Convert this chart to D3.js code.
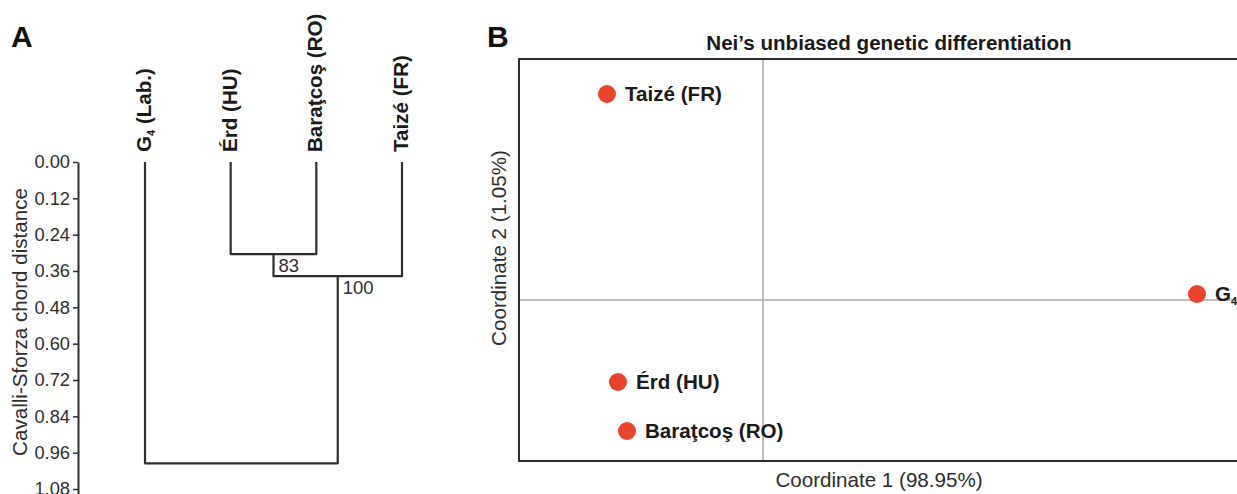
<!DOCTYPE html>
<html>
<head>
<meta charset="utf-8">
<script src="https://cdn.jsdelivr.net/npm/d3@7"></script>
<style>
	body { margin: 0; background: #fff; }
	svg { display: block; font-family: 'Liberation Sans', Arial, sans-serif; }
</style>
</head>
<body>
<div id="visContainer"></div>
<script>
'use strict';

// ---- data: panel A (dendrogram) ----
// leaf labels, split into main text / subscript / rest
var leafMain = ['G', 'Érd (HU)', 'Baraţcoş (RO)', 'Taizé (FR)'];
var leafSub = ['4', '', '', ''];
var leafRest = [' (Lab.)', '', '', ''];
// merges: node index 0..3 are leaves, 4.. are merged clusters
var mergeLeft = [1, 4, 0];
var mergeRight = [2, 3, 5];
var mergeHeight = [0.304, 0.377, 0.995];
var mergeSupport = [83, 100, null];
var distanceTicks = [0, 0.12, 0.24, 0.36, 0.48, 0.60, 0.72, 0.84, 0.96, 1.08];

// ---- data: panel B (PCoA) ----
var pcoaMain = ['Taizé (FR)', 'G', 'Érd (HU)', 'Baraţcoş (RO)'];
var pcoaSub = ['', '4', '', ''];
var coord1 = [-0.156, 0.434, -0.145, -0.136];
var coord2 = [0.206, 0.006, -0.082, -0.131];

var svg = d3.select('#visContainer')
	.append('svg')
	.attr('width', 1237)
	.attr('height', 494);

var DARK = '#2e2e2e';
var LABEL = '20.6px';

// panel letters
svg.append('text').text('A')
	.attr('x', 11).attr('y', 47)
	.style('font-size', '30px').style('font-weight', 'bold').attr('fill', '#111');
svg.append('text').text('B')
	.attr('x', 487).attr('y', 47)
	.style('font-size', '30px').style('font-weight', 'bold').attr('fill', '#111');

// ================= panel A =================
var yScale = d3.scaleLinear()
	.domain([0, 1.1])
	.range([162, 162 + 1.1 * 302.8]);

var xLeaf = d3.scalePoint()
	.domain(d3.range(leafMain.length))
	.range([145, 402]);

var yAxis = d3.axisLeft(yScale)
	.tickValues(distanceTicks)
	.tickFormat(d3.format('.2f'))
	.tickSize(5)
	.tickSizeOuter(0)
	.tickPadding(3);

var yAxisG = svg.append('g')
	.attr('transform', 'translate(78,0)')
	.call(yAxis);
yAxisG.select('.domain').attr('stroke', DARK).attr('stroke-width', 2);
yAxisG.selectAll('.tick line').attr('stroke', DARK).attr('stroke-width', 1.5);
yAxisG.selectAll('.tick text')
	.style('font-size', '18.3px')
	.attr('fill', DARK)
	.style('font-family', "'Liberation Sans', Arial, sans-serif");

svg.append('text')
	.text('Cavalli-Sforza chord distance')
	.attr('transform', 'translate(27,322) rotate(-90)')
	.attr('text-anchor', 'middle')
	.style('font-size', LABEL)
	.attr('fill', DARK);

// node positions
var nodeX = [], nodeY = [];
d3.range(leafMain.length).forEach(function (i) {
	nodeX.push(xLeaf(i));
	nodeY.push(yScale(0));
});
mergeHeight.forEach(function (h, i) {
	nodeX.push((nodeX[mergeLeft[i]] + nodeX[mergeRight[i]]) / 2);
	nodeY.push(yScale(h));
});

// branches: vertical drop from each child to merge height, then the horizontal bar
var tree = svg.append('g')
	.attr('fill', 'none')
	.attr('stroke', DARK)
	.attr('stroke-width', 2.2)
	.attr('stroke-linejoin', 'round');

mergeHeight.forEach(function (h, i) {
	var a = mergeLeft[i], b = mergeRight[i];
	var yy = yScale(h);
	var path = d3.path();
	path.moveTo(nodeX[a], nodeY[a]);
	path.lineTo(nodeX[a], yy);
	path.lineTo(nodeX[b], yy);
	path.lineTo(nodeX[b], nodeY[b]);
	tree.append('path').attr('d', path.toString());
});

// bootstrap support values
mergeSupport.forEach(function (s, i) {
	if (s == null) return;
	var n = leafMain.length + i;
	svg.append('text')
		.text(s)
		.attr('x', nodeX[n] + 5)
		.attr('y', nodeY[n] + 18)
		.style('font-size', '18.5px')
		.attr('fill', DARK);
});

// leaf labels
leafMain.forEach(function (name, i) {
	var t = svg.append('text')
		.attr('transform', 'translate(' + (xLeaf(i) + 6) + ',152) rotate(-90)')
		.style('font-size', LABEL)
		.style('font-weight', 'bold')
		.attr('fill', '#1a1a1a');
	t.append('tspan').text(name);
	if (leafSub[i]) {
		t.append('tspan').text(leafSub[i])
			.attr('dy', 4).style('font-size', '11px');
		t.append('tspan').text(leafRest[i])
			.attr('dy', -4);
	}
});

// ================= panel B =================
var BOX = { left: 519, top: 59, right: 1259, bottom: 461 };

var xPC = d3.scaleLinear()
	.domain([-0.244, 0.496])
	.range([BOX.left, BOX.right]);
var yPC = d3.scaleLinear()
	.domain([-0.161, 0.241])
	.range([BOX.bottom, BOX.top]);

// zero lines
svg.append('line')
	.attr('x1', xPC(0)).attr('x2', xPC(0))
	.attr('y1', BOX.top).attr('y2', BOX.bottom)
	.attr('stroke', '#aaa').attr('stroke-width', 1.5);
svg.append('line')
	.attr('x1', BOX.left).attr('x2', BOX.right)
	.attr('y1', yPC(0)).attr('y2', yPC(0))
	.attr('stroke', '#aaa').attr('stroke-width', 1.5);

// points
svg.selectAll('.pt')
	.data(coord1)
	.enter().append('circle')
	.attr('class', 'pt')
	.attr('cx', function (d) { return xPC(d); })
	.attr('cy', function (d, i) { return yPC(coord2[i]); })
	.attr('r', 9)
	.attr('fill', '#e8432d');

// point labels
pcoaMain.forEach(function (name, i) {
	var t = svg.append('text')
		.attr('x', xPC(coord1[i]) + 18)
		.attr('y', yPC(coord2[i]) + 7)
		.style('font-size', LABEL)
		.style('font-weight', 'bold')
		.attr('fill', '#1a1a1a');
	t.append('tspan').text(name);
	if (pcoaSub[i]) {
		t.append('tspan').text(pcoaSub[i])
			.attr('dy', 4).style('font-size', '11px');
	}
});

// frame
svg.append('rect')
	.attr('x', BOX.left).attr('y', BOX.top)
	.attr('width', BOX.right - BOX.left)
	.attr('height', BOX.bottom - BOX.top)
	.attr('fill', 'none')
	.attr('stroke', DARK)
	.attr('stroke-width', 2);

// titles
svg.append('text')
	.text('Nei\u2019s unbiased genetic differentiation')
	.attr('x', 889).attr('y', 50)
	.attr('text-anchor', 'middle')
	.style('font-size', LABEL)
	.style('font-weight', 'bold')
	.attr('fill', '#1a1a1a');

svg.append('text')
	.text('Coordinate 1 (98.95%)')
	.attr('x', 879).attr('y', 487)
	.attr('text-anchor', 'middle')
	.style('font-size', LABEL)
	.attr('fill', DARK);

svg.append('text')
	.text('Coordinate 2 (1.05%)')
	.attr('transform', 'translate(506,248) rotate(-90)')
	.attr('text-anchor', 'middle')
	.style('font-size', LABEL)
	.attr('fill', DARK);
</script>
</body>
</html>
